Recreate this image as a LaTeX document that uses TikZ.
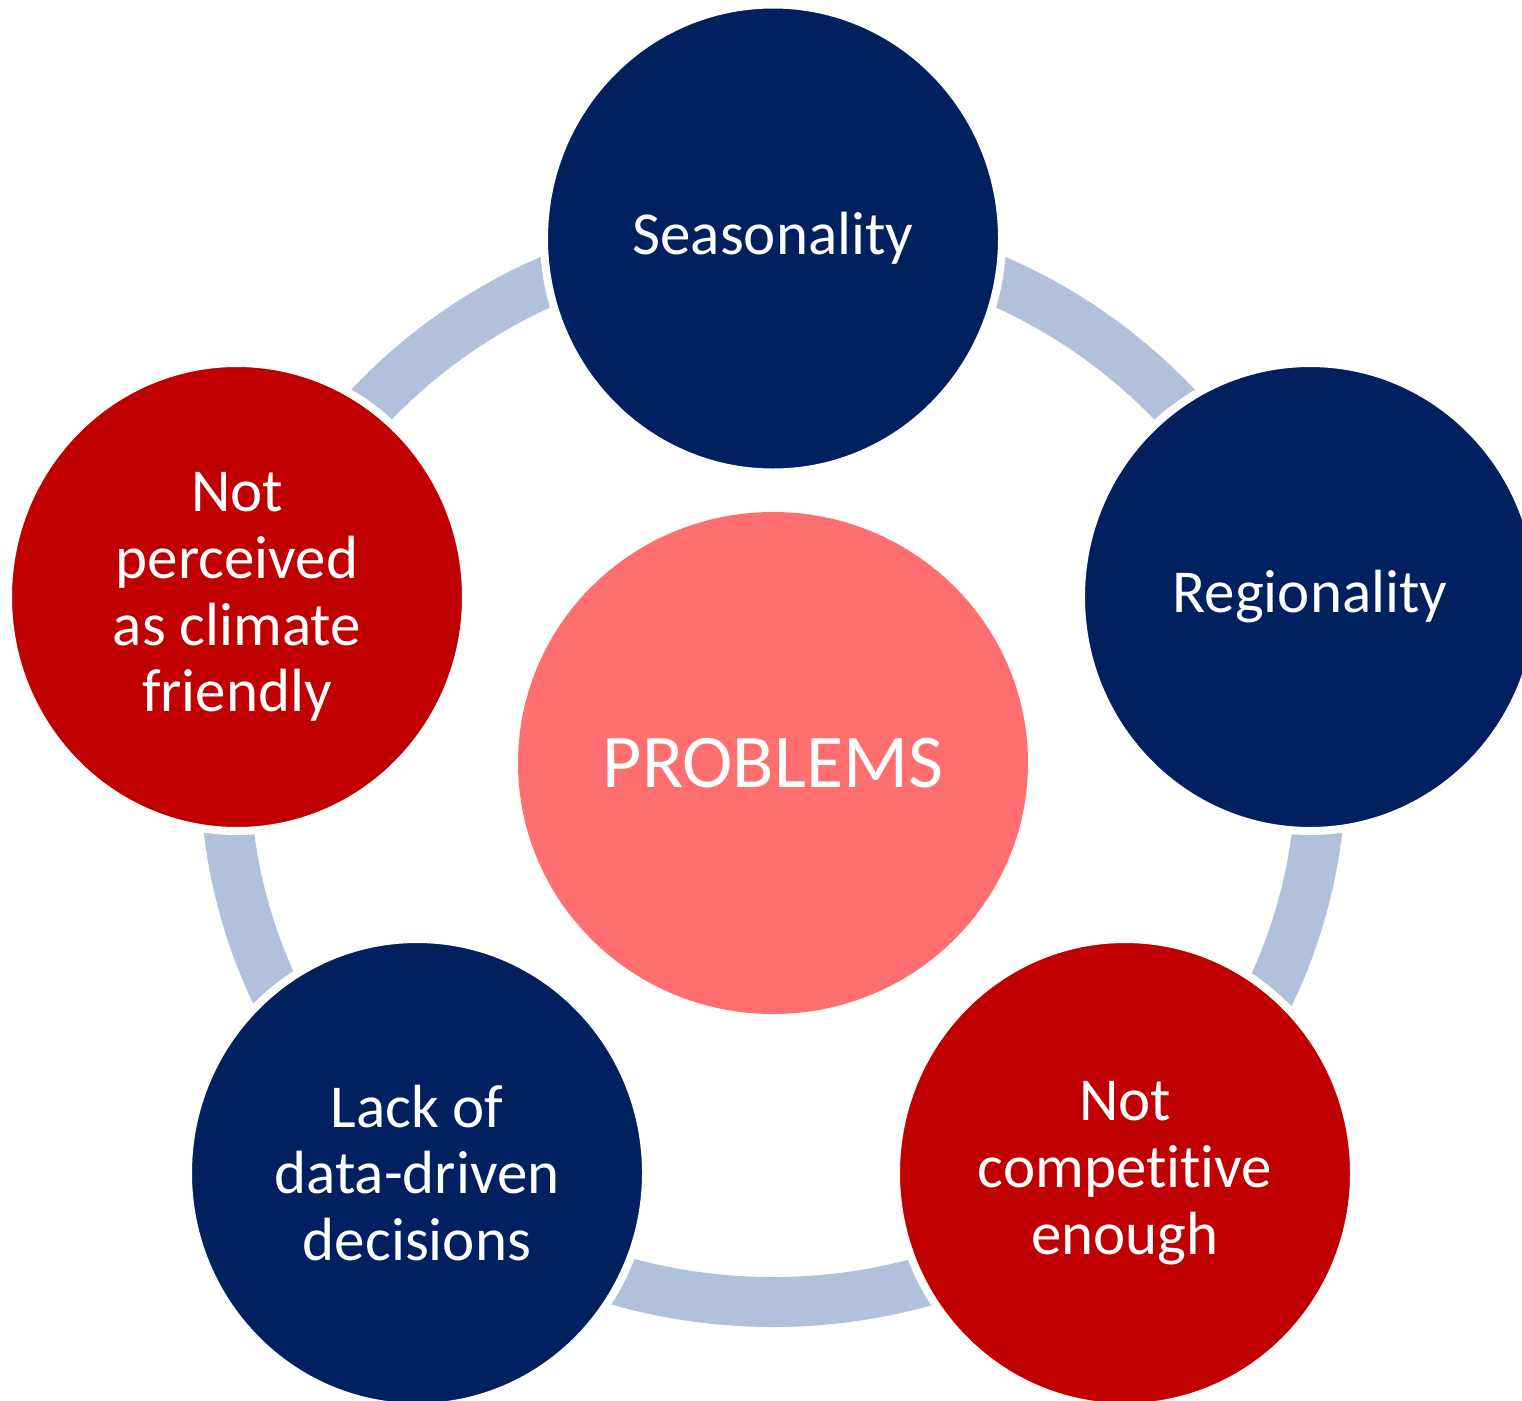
\documentclass[tikz,border=0pt]{standalone}
\usepackage{fontspec}
\setmainfont{Carlito}[Ligatures=NoCommon]
\usetikzlibrary{shapes.geometric}
\definecolor{navy}{RGB}{0,32,96}
\definecolor{deepred}{RGB}{192,0,0}
\definecolor{salmon}{RGB}{255,111,111}
\definecolor{ringblue}{RGB}{177,193,220}
\begin{document}
\begin{tikzpicture}[x=1pt,y=-1pt,
  topic/.style={ellipse, minimum width=458pt, minimum height=468pt, inner sep=0pt,
    draw=white, line width=8pt, text=white, align=center,
    font=\fontsize{61}{66.7}\selectfont},
  bluetopic/.style={topic, fill=navy},
  redtopic/.style={topic, fill=deepred},
  hub/.style={ellipse, minimum width=510pt, minimum height=502pt, inner sep=0pt,
    fill=salmon, text=white, font=\fontsize{76}{90}\selectfont},
  ring/.style={draw=ringblue, line width=50pt}]
\useasboundingbox (0,0) rectangle (1522,1400);
\clip (0,0) rectangle (1522,1400);
% the cycle ring behind the outer circles
\draw[ring] (773,768) ellipse [x radius=548, y radius=534];
% centre
\node[hub] (hub) at (773,763) {PROBLEMS};
% outer circles
\node[bluetopic] (season) at (773,238.5) {Seasonality};
\node[bluetopic] (region) at (1310,597) {Regionality};
\node[redtopic] (compete) at (1125,1173) {Not\\competitive\\enough};
\node[bluetopic] (data) at (417,1173) {Lack of\\data-driven\\decisions};
\node[redtopic] (climate) at (237,597) {Not\\perceived\\as climate\\friendly};
\end{tikzpicture}
\end{document}
